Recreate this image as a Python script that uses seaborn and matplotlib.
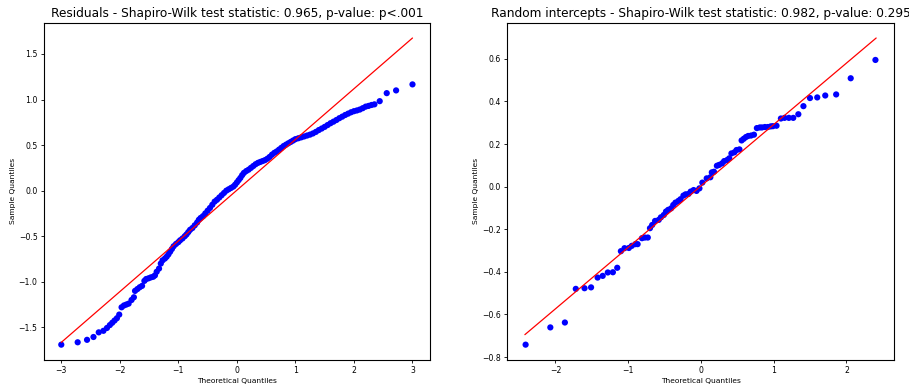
import matplotlib
matplotlib.use("Agg")
import matplotlib.pyplot as plt
import seaborn as sns
import numpy as np

# ---- Left panel: residuals (theoretical quantile, sample quantile) ----
resid_theor = [-3.00, -2.72, -2.56, -2.45, -2.36, -2.28, -2.22, -2.17, -2.13, -2.09,
               -2.05, -2.01, -1.97, -1.93, -1.89, -1.85, -1.80, -1.76, -1.74, -1.70,
               -1.66, -1.62, -1.58, -1.55, -1.51, -1.47, -1.43, -1.40, -1.37, -1.33,
               -1.30, -1.27, -1.23, -1.20, -1.17, -1.14, -1.11, -1.08, -1.04, -1.00,
               -0.97, -0.93, -0.89, -0.86, -0.83, -0.80, -0.76, -0.72, -0.68, -0.65,
               -0.62, -0.58, -0.54, -0.50, -0.46, -0.42, -0.38, -0.34, -0.30, -0.26,
               -0.22, -0.18, -0.14, -0.10, -0.06, -0.03, 0.00, 0.03, 0.06, 0.09,
               0.12, 0.16, 0.20, 0.24, 0.28, 0.32, 0.36, 0.40, 0.44, 0.48,
               0.52, 0.56, 0.60, 0.64, 0.68, 0.72, 0.76, 0.80, 0.84, 0.88,
               0.92, 0.96, 1.00, 1.05, 1.10, 1.15, 1.20, 1.25, 1.30, 1.35,
               1.40, 1.45, 1.50, 1.55, 1.60, 1.65, 1.70, 1.75, 1.80, 1.85,
               1.90, 1.95, 2.00, 2.05, 2.10, 2.15, 2.20, 2.25, 2.30, 2.35,
               2.44, 2.56, 2.72, 3.00]
resid_sample = [-1.690, -1.664, -1.637, -1.606, -1.555, -1.538, -1.507, -1.475, -1.450, -1.425,
                -1.400, -1.360, -1.280, -1.260, -1.250, -1.240, -1.200, -1.170, -1.100, -1.080,
                -1.060, -1.045, -0.990, -0.970, -0.962, -0.952, -0.945, -0.930, -0.890, -0.855,
                -0.800, -0.765, -0.745, -0.725, -0.700, -0.670, -0.640, -0.610, -0.585, -0.565,
                -0.545, -0.525, -0.500, -0.480, -0.455, -0.430, -0.410, -0.380, -0.350, -0.320,
                -0.300, -0.280, -0.250, -0.220, -0.190, -0.155, -0.120, -0.100, -0.075, -0.050,
                -0.025, 0.000, 0.015, 0.030, 0.045, 0.065, 0.090, 0.115, 0.140, 0.170,
                0.195, 0.215, 0.230, 0.250, 0.270, 0.290, 0.305, 0.315, 0.325, 0.335,
                0.350, 0.370, 0.395, 0.415, 0.430, 0.450, 0.470, 0.490, 0.505, 0.520,
                0.535, 0.550, 0.565, 0.575, 0.585, 0.595, 0.605, 0.615, 0.628, 0.645,
                0.665, 0.682, 0.700, 0.720, 0.740, 0.757, 0.775, 0.795, 0.812, 0.830,
                0.845, 0.860, 0.872, 0.880, 0.890, 0.905, 0.922, 0.930, 0.940, 0.947,
                0.982, 1.070, 1.100, 1.166]
resid_line_x = [-3.00, 3.00]
resid_line_y = [-1.665, 1.675]

# ---- Right panel: random intercepts ----
ri_theor = [-2.41, -2.07, -1.87, -1.72, -1.60, -1.51, -1.42, -1.35, -1.28, -1.21,
            -1.15, -1.10, -1.05, -0.99, -0.95, -0.90, -0.87, -0.81, -0.77, -0.73,
            -0.70, -0.67, -0.63, -0.58, -0.55, -0.51, -0.48, -0.45, -0.41, -0.38,
            -0.35, -0.31, -0.28, -0.24, -0.21, -0.17, -0.14, -0.10, -0.06, -0.02,
            0.02, 0.08, 0.13, 0.15, 0.18, 0.22, 0.25, 0.29, 0.32, 0.36,
            0.39, 0.42, 0.46, 0.49, 0.53, 0.56, 0.59, 0.62, 0.65, 0.69,
            0.73, 0.77, 0.81, 0.84, 0.88, 0.92, 0.96, 0.99, 1.04, 1.10,
            1.15, 1.21, 1.27, 1.34, 1.41, 1.50, 1.60, 1.71, 1.86, 2.06,
            2.40]
ri_sample = [-0.742, -0.661, -0.638, -0.480, -0.477, -0.473, -0.427, -0.419, -0.403, -0.402,
             -0.381, -0.303, -0.289, -0.288, -0.278, -0.270, -0.270, -0.242, -0.239, -0.239,
             -0.195, -0.180, -0.161, -0.156, -0.144, -0.133, -0.117, -0.109, -0.102, -0.086,
             -0.075, -0.067, -0.059, -0.042, -0.036, -0.034, -0.023, -0.016, -0.020, -0.008,
             0.019, 0.039, 0.044, 0.067, 0.070, 0.098, 0.102, 0.109, 0.120, 0.125,
             0.133, 0.156, 0.161, 0.172, 0.175, 0.217, 0.225, 0.233, 0.238, 0.240,
             0.244, 0.275, 0.278, 0.278, 0.280, 0.280, 0.283, 0.284, 0.286, 0.320,
             0.323, 0.323, 0.323, 0.340, 0.378, 0.416, 0.419, 0.428, 0.433, 0.509,
             0.595]
ri_line_x = [-2.42, 2.41]
ri_line_y = [-0.695, 0.698]

titles = ["Residuals - Shapiro-Wilk test statistic: 0.965, p-value: p<.001",
          "Random intercepts - Shapiro-Wilk test statistic: 0.982, p-value: 0.295"]

sns.set_style("white")
plt.rcParams['font.family'] = ['DejaVu Sans']
plt.rcParams.update({"text.color": "black", "axes.labelcolor": "black",
                     "xtick.color": "black", "ytick.color": "black"})

fig = plt.figure(figsize=(9.09, 3.87), dpi=100)
ax1 = fig.add_axes([0.0481, 0.0698, 0.4250, 0.8716])
ax2 = fig.add_axes([0.5581, 0.0698, 0.4251, 0.8716])

panels = [(ax1, resid_theor, resid_sample, resid_line_x, resid_line_y, titles[0]),
          (ax2, ri_theor, ri_sample, ri_line_x, ri_line_y, titles[1])]

for ax, tx, sy, lx, ly, title in panels:
    sns.scatterplot(x=tx, y=sy, ax=ax, color="blue", edgecolor="none", s=20, linewidth=0, zorder=2)
    sns.lineplot(x=lx, y=ly, ax=ax, color="red", linewidth=0.9, zorder=3)
    ax.set_title(title, fontsize=8.7, pad=4, color="black")
    ax.set_xlabel("Theoretical Quantiles", fontsize=5.4, labelpad=2)
    ax.set_ylabel("Sample Quantiles", fontsize=5.4, labelpad=2)
    ax.tick_params(axis="both", labelsize=5.6, length=2.5, width=0.6, pad=2,
                   bottom=True, left=True, color="black")
    for sp in ax.spines.values():
        sp.set_color("black")
        sp.set_linewidth(0.8)
    ax.margins(0.05)

ax2.set_yticks([-0.8, -0.6, -0.4, -0.2, 0.0, 0.2, 0.4, 0.6])

fig.savefig("out.png", dpi=100)
